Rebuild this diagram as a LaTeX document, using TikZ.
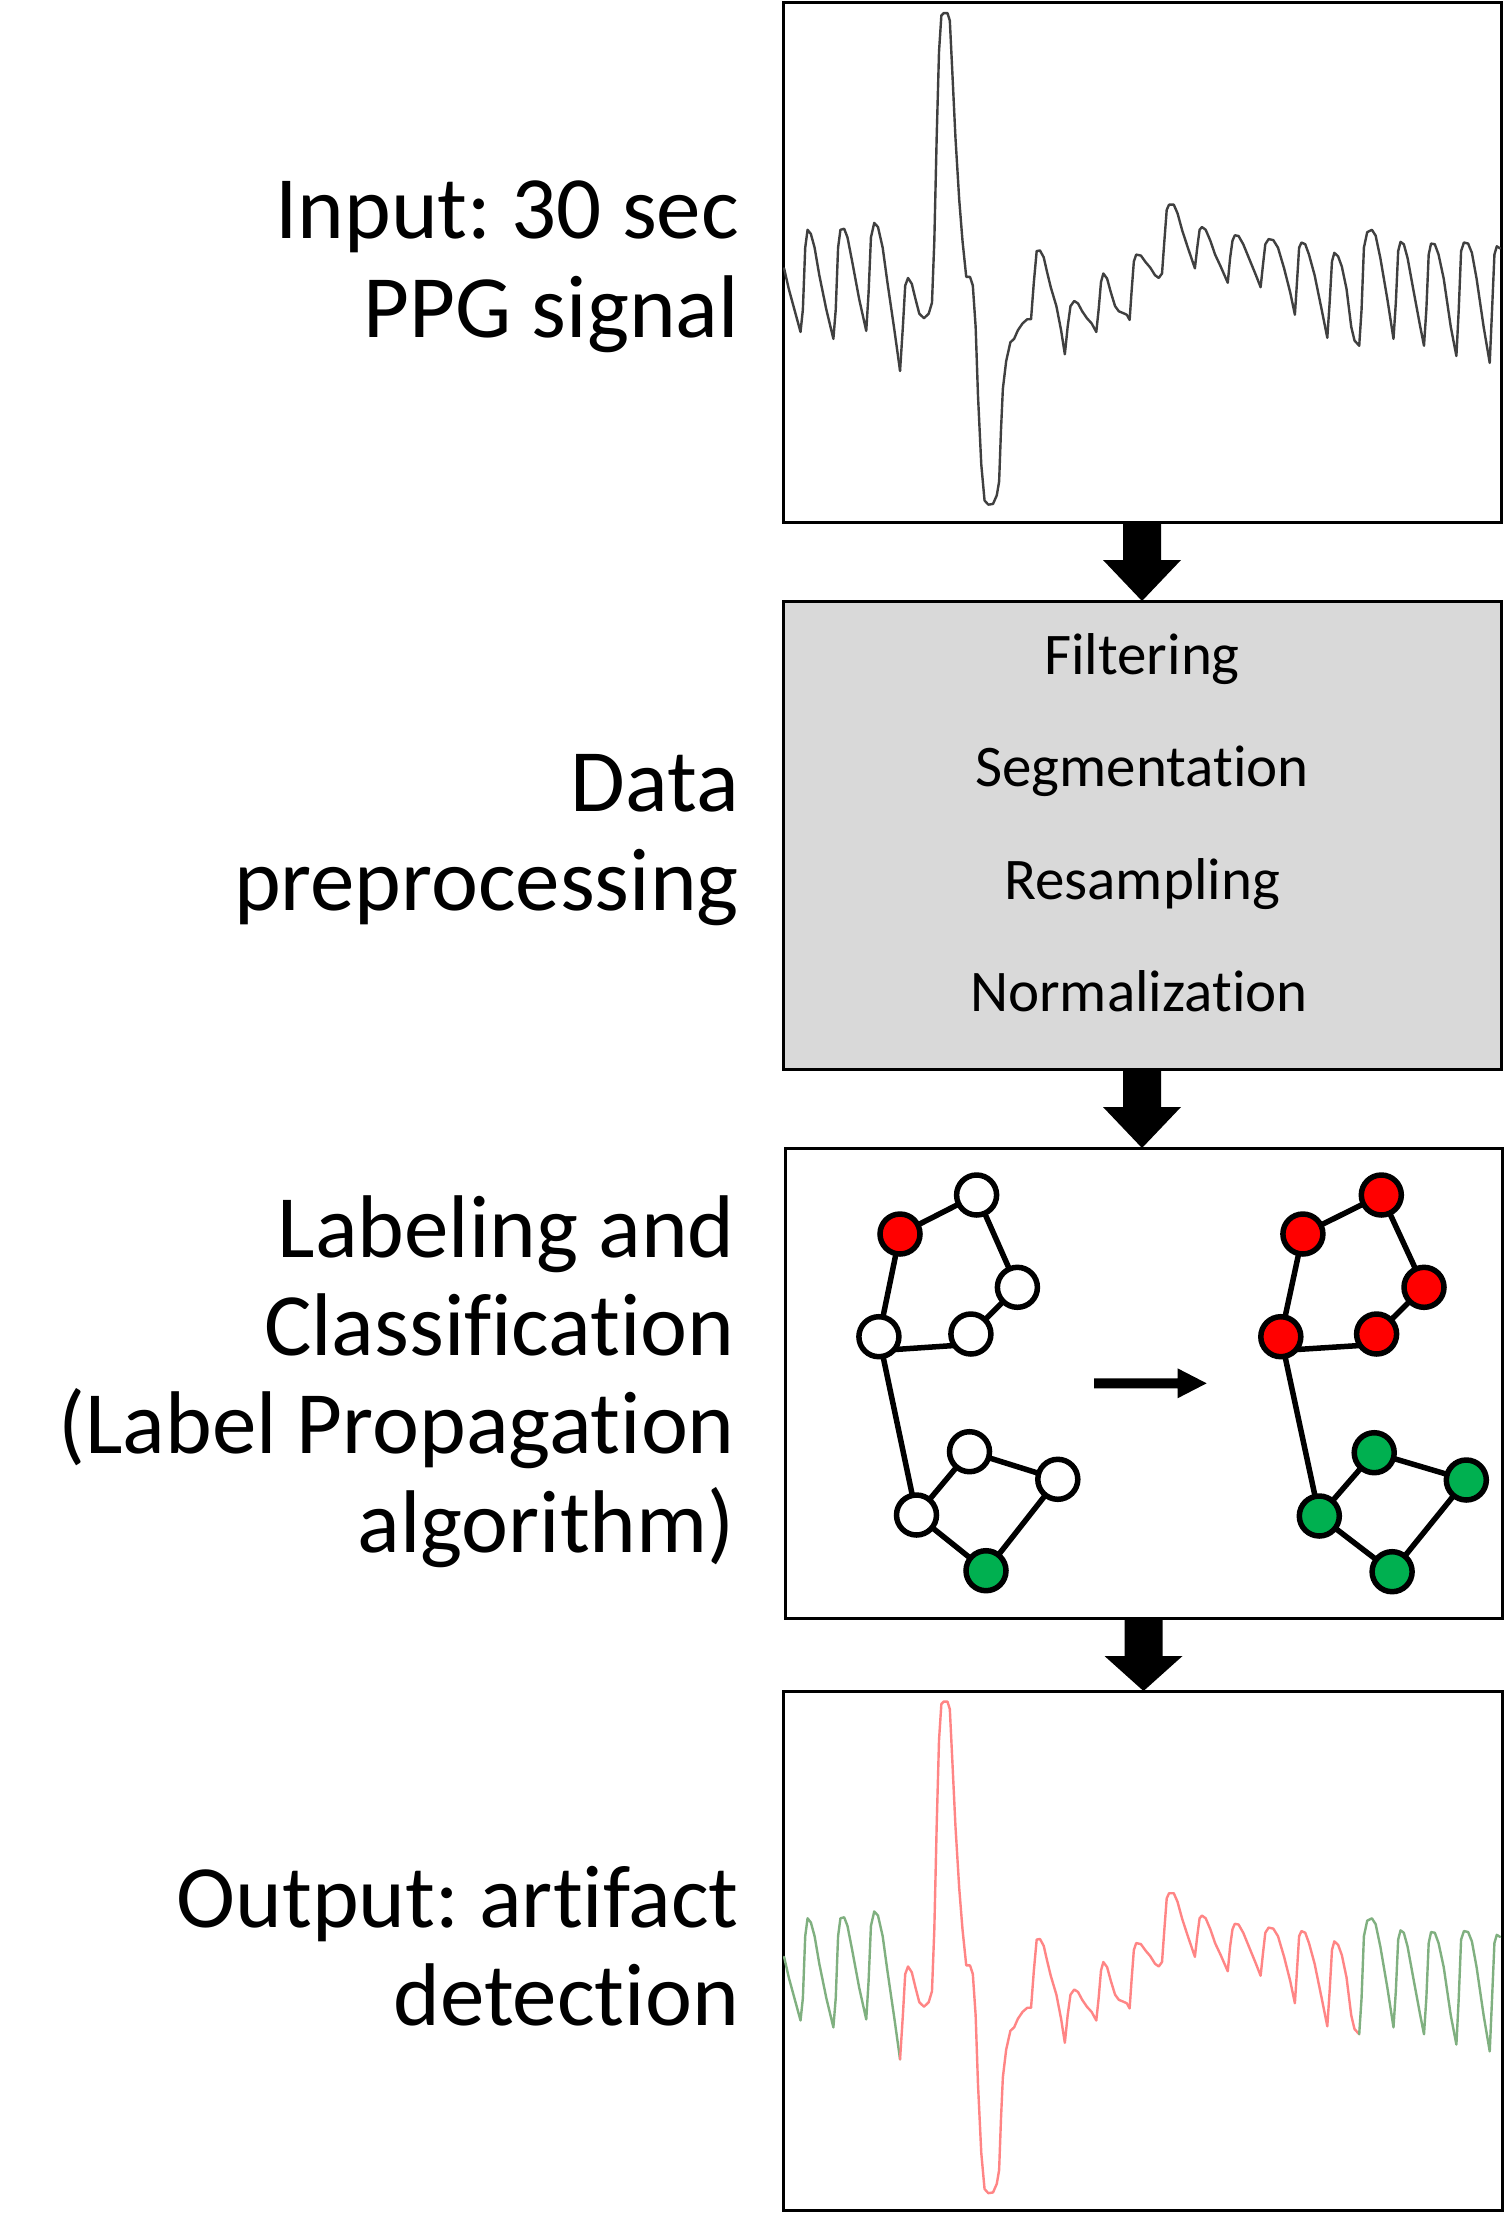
\documentclass[tikz,border=0pt]{standalone}
\usepackage{fontspec}
\setmainfont{Carlito}[Ligatures=NoCommon]
\usetikzlibrary{calc}
\definecolor{sigGray}{HTML}{404040}
\definecolor{sigRed}{HTML}{FF8585}
\definecolor{sigGreen}{HTML}{80B080}
\definecolor{boxGray}{HTML}{D9D9D9}
\definecolor{nodeRed}{HTML}{FF0000}
\definecolor{nodeGreen}{HTML}{00B050}
\frenchspacing

\def\sigA{(30,780) -- (40,840) -- (52,900) -- (65,965) -- (70,900) -- (75,720) -- (80,668) -- (87,680) -- (95,720) -- (105,800) -- (120,900) -- (135,985) -- (140,900) -- (145,720) -- (150,668) -- (158,665) -- (165,690) -- (175,760) -- (190,870) -- (205,962) -- (210,850) -- (215,690) -- (222,648) -- (230,660) -- (240,720) -- (250,820) -- (265,960) -- (277,1078)}
\def\sigB{(277,1078) -- (283,950) -- (288,830) -- (294,808) -- (302,825) -- (310,870) -- (318,912) -- (328,925) -- (338,912) -- (345,880) -- (350,700) -- (355,400) -- (360,150) -- (365,45) -- (370,38) -- (378,38) -- (383,60) -- (388,200) -- (395,400) -- (403,580) -- (410,700) -- (418,805) -- (426,805) -- (432,830) -- (438,950) -- (443,1150) -- (450,1350) -- (457,1455) -- (465,1467) -- (475,1465) -- (483,1440) -- (488,1400) -- (492,1250) -- (496,1130) -- (503,1050) -- (512,995) -- (520,985) -- (528,960) -- (538,940) -- (548,928) -- (556,928) -- (562,820) -- (568,730) -- (575,728) -- (583,748) -- (590,790) -- (598,835) -- (610,890) -- (620,960) -- (628,1030) -- (634,950) -- (640,890) -- (648,875) -- (656,882) -- (665,905) -- (675,925) -- (685,940) -- (695,965) -- (700,900) -- (705,820) -- (710,795) -- (718,810) -- (726,850) -- (735,890) -- (743,905) -- (752,910) -- (760,915) -- (766,930) -- (770,850) -- (775,760) -- (780,740) -- (790,743) -- (800,762) -- (810,778) -- (820,800) -- (828,808) -- (835,795) -- (840,700) -- (845,610) -- (850,595) -- (860,595) -- (868,620) -- (878,670) -- (890,720) -- (905,780) -- (910,720) -- (915,668) -- (920,660) -- (928,668) -- (938,700) -- (948,740) -- (960,775) -- (975,822) -- (980,750) -- (985,700) -- (990,684) -- (998,686) -- (1008,710) -- (1020,750) -- (1035,800) -- (1045,835) -- (1050,770) -- (1055,710) -- (1062,695) -- (1072,698) -- (1082,720) -- (1095,780) -- (1108,850) -- (1118,915) -- (1122,830) -- (1127,720) -- (1132,705) -- (1140,710) -- (1148,740) -- (1160,800) -- (1175,900) -- (1187,982) -- (1192,880) -- (1197,760) -- (1202,735) -- (1210,745) -- (1218,775) -- (1228,840) -- (1238,950) -- (1245,990) -- (1255,1005)}
\def\sigC{(1255,1005) -- (1260,900) -- (1265,720) -- (1272,675) -- (1282,668) -- (1290,685) -- (1300,750) -- (1315,870) -- (1328,985) -- (1333,880) -- (1338,730) -- (1343,703) -- (1350,710) -- (1358,750) -- (1370,840) -- (1385,950) -- (1393,1005) -- (1398,900) -- (1403,740) -- (1408,708) -- (1416,710) -- (1424,740) -- (1435,810) -- (1450,950) -- (1462,1035) -- (1467,900) -- (1472,730) -- (1478,705) -- (1487,708) -- (1495,735) -- (1505,810) -- (1520,950) -- (1533,1055) -- (1538,900) -- (1543,740) -- (1548,716) -- (1555,722)}

\newcommand{\flowarrow}[2]{%
  \fill ($(#1.south)+(-19,0)$) -- ($(#1.south)+(19,0)$) -- ($(#1.south)+(19,38)$)
    -- ($(#1.south)+(39,38)$) -- (#1.south |- #2.north) -- ($(#1.south)+(-39,38)$)
    -- ($(#1.south)+(-19,38)$) -- cycle;}

\begin{document}
\begin{tikzpicture}[x=1pt,y=-1pt,
  panel/.style={draw=black, line width=3pt, inner sep=0pt, outer sep=0pt},
  biglabel/.style={anchor=base east, inner sep=0pt, font=\fontsize{89}{100}\selectfont},
  steplabel/.style={anchor=base, inner sep=0pt, font=\fontsize{59}{70}\selectfont},
  gnode/.style={circle, draw=black, line width=5.5pt, minimum size=40pt, inner sep=0pt, outer sep=0pt},
  gwhite/.style={gnode, fill=white},
  gred/.style={gnode, fill=nodeRed},
  ggreen/.style={gnode, fill=nodeGreen},
  gedge/.style={line width=5.5pt},
  sigline/.style={line width=2.4pt, line cap=round, line join=round}
]
\fill[white] (0,0) rectangle (1507,2213);
\useasboundingbox (0,0) rectangle (1507,2213);

% panels
\node[panel, minimum width=718pt, minimum height=519pt] (box1) at (1142,262.5) {};
\node[panel, fill=boxGray, minimum width=718pt, minimum height=468pt] (box2) at (1142,835) {};
\node[panel, minimum width=717pt, minimum height=470pt] (box3) at (1143.5,1383) {};
\node[panel, minimum width=719pt, minimum height=519pt] (box4) at (1142.5,1950.5) {};

% flow arrows
\flowarrow{box1}{box2}
\flowarrow{box2}{box3}
\flowarrow{box3}{box4}

% left labels
\node[biglabel] (t1a) at (739,238) {Input: 30 sec};
\node[biglabel] (t1b) at (739,337) {PPG signal};
\node[biglabel] (t2a) at (739,811) {Data};
\node[biglabel] (t2b) at (739,910) {preprocessing};
\node[biglabel] (t3a) at (735,1257) {Labeling and};
\node[biglabel] (t3b) at (735,1355) {Classification};
\node[biglabel] (t3c) at (735,1453) {(Label Propagation};
\node[biglabel] (t3d) at (735,1552) {algorithm)};
\node[biglabel] (t4a) at (739,1927) {Output: artifact};
\node[biglabel] (t4b) at (739,2025) {detection};

% preprocessing steps
\node[steplabel] (s1) at (1142,674) {Filtering};
\node[steplabel] (s2) at (1142,786) {Segmentation};
\node[steplabel] (s3) at (1142,899) {Resampling};
\node[steplabel] (s4) at (1139,1011) {Normalization};

% input signal
\begin{scope}[shift={(770,0)}, xscale=0.46948, yscale=0.34399]
  \draw[sigline, sigGray] \sigA;
  \draw[sigline, sigGray] \sigB;
  \draw[sigline, sigGray] \sigC;
\end{scope}

% output signal
\begin{scope}[shift={(770,1688.5)}, xscale=0.46948, yscale=0.34399]
  \draw[sigline, sigGreen] \sigA;
  \draw[sigline, sigRed] \sigB;
  \draw[sigline, sigGreen] \sigC;
\end{scope}

% graph before
\node[gred]   (n1) at (900,1234) {};
\node[gwhite] (n2) at (976.6,1195) {};
\node[gwhite] (n3) at (1017.4,1287.3) {};
\node[gwhite] (n4) at (970.9,1334) {};
\node[gwhite] (n5) at (878.9,1336.7) {};
\node[gwhite] (n6) at (969.5,1451.7) {};
\node[gwhite] (n7) at (1057.8,1479.3) {};
\node[gwhite] (n8) at (916.5,1515) {};
\node[ggreen] (n9) at (986,1570.7) {};
\draw[gedge] (n1) -- (n2);
\draw[gedge] (n2) -- (n3);
\draw[gedge] (n3) -- (n4);
\draw[gedge] (n5.-40) -- (n4.215);
\draw[gedge] (n5) -- (n1);
\draw[gedge] (n5) -- (n8);
\draw[gedge] (n8) -- (n6);
\draw[gedge] (n6) -- (n7);
\draw[gedge] (n7) -- (n9);
\draw[gedge] (n9) -- (n8);

% propagation arrow
\fill (1094,1378.3) -- (1177.5,1378.3) -- (1177.5,1368.3) -- (1206.6,1383.3)
  -- (1177.5,1398.3) -- (1177.5,1388.3) -- (1094,1388.3) -- cycle;

% graph after
\node[gred]   (m1) at (1302.9,1234) {};
\node[gred]   (m2) at (1381.3,1195) {};
\node[gred]   (m3) at (1424,1287.3) {};
\node[gred]   (m4) at (1376.6,1334) {};
\node[gred]   (m5) at (1280.8,1336.7) {};
\node[ggreen] (m6) at (1374.2,1452.7) {};
\node[ggreen] (m7) at (1466.3,1480) {};
\node[ggreen] (m8) at (1319.3,1516) {};
\node[ggreen] (m9) at (1392.1,1571.7) {};
\draw[gedge] (m1) -- (m2);
\draw[gedge] (m2) -- (m3);
\draw[gedge] (m3) -- (m4);
\draw[gedge] (m5.-40) -- (m4.215);
\draw[gedge] (m5) -- (m1);
\draw[gedge] (m5) -- (m8);
\draw[gedge] (m8) -- (m6);
\draw[gedge] (m6) -- (m7);
\draw[gedge] (m7) -- (m9);
\draw[gedge] (m9) -- (m8);
\end{tikzpicture}
\end{document}
